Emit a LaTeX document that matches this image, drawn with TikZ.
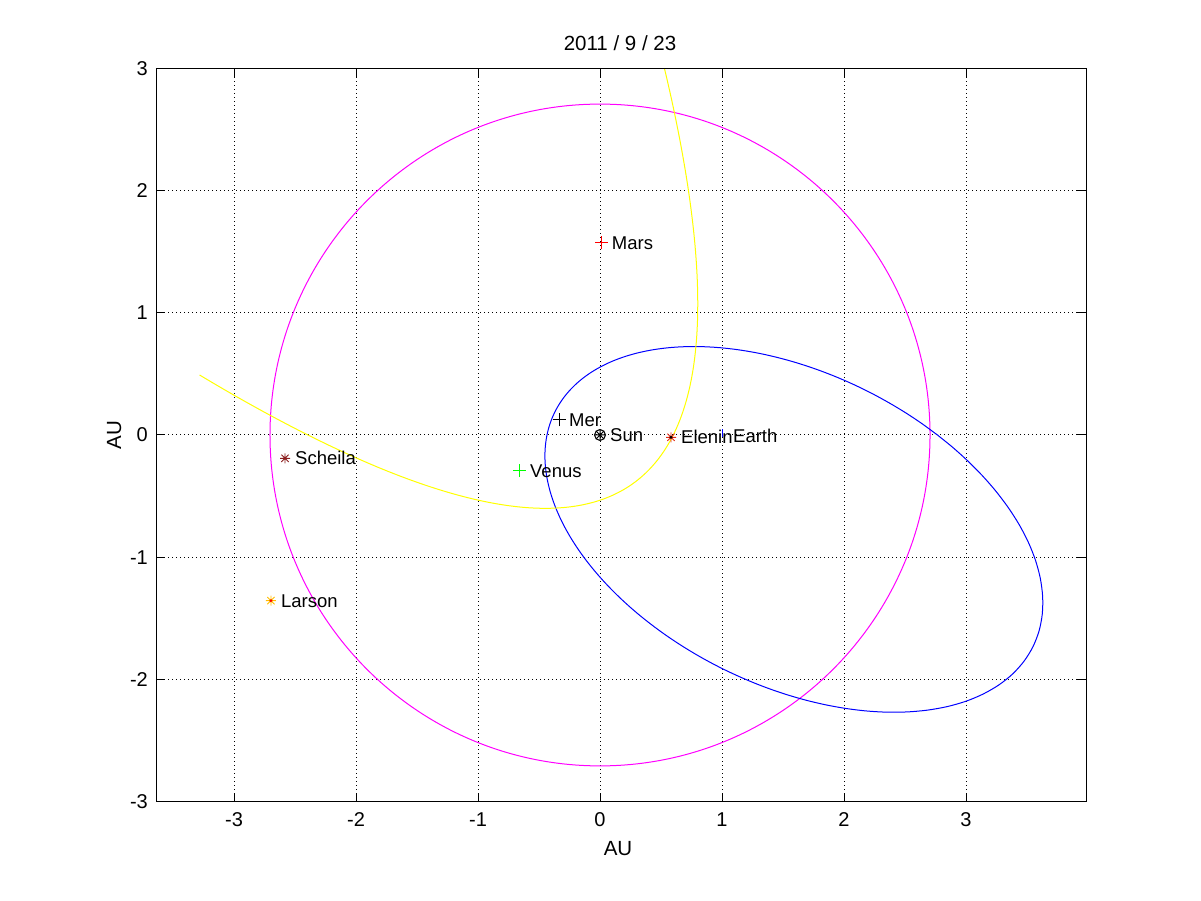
\documentclass[tikz,border=0pt]{standalone}
\usepackage{fontspec}
\setmainfont{Liberation Sans}
\definecolor{scheilacol}{RGB}{140,30,30}
\definecolor{elenincol}{RGB}{225,40,20}
\definecolor{larsoncol}{RGB}{255,190,0}
\definecolor{mgreen}{RGB}{0,255,0}
\definecolor{myellow}{RGB}{255,255,0}
\definecolor{mmagenta}{RGB}{255,0,255}
\definecolor{mblue}{RGB}{0,0,255}
\tikzset{
  gridline/.style={black, line width=1pt, dash pattern=on 1pt off 3pt},
  axisline/.style={black, line width=1pt},
  orbit/.style={line width=1pt},
  lab/.style={anchor=base west, inner sep=0pt, xshift=10pt, yshift=-6.6pt, font=\fontsize{18.5}{20}\selectfont},
  ticklab/.style={inner sep=0pt, font=\fontsize{20}{22}\selectfont},
  pics/plusmk/.style={code={\draw[line width=1pt] (-6.5pt,0) -- (6.5pt,0) (0,-6.5pt) -- (0,6.5pt);}},
  pics/starmk/.style={code={\draw[line width=0.9pt] (-5pt,0) -- (5pt,0) (0,-5pt) -- (0,5pt)
      (-3.6pt,-3.6pt) -- (3.6pt,3.6pt) (-3.6pt,3.6pt) -- (3.6pt,-3.6pt);}},
  pics/sunmk/.style={code={\draw[line width=1pt] (0,0) circle (5.5pt)
      (-5.5pt,0) -- (5.5pt,0) (0,-5.5pt) -- (0,5.5pt)
      (-3.9pt,-3.9pt) -- (3.9pt,3.9pt) (-3.9pt,3.9pt) -- (3.9pt,-3.9pt);}},
}
\begin{document}
\begin{tikzpicture}[x=1pt,y=1pt]
\useasboundingbox[fill=white] (0,0) rectangle (1201,900);
\begin{scope}[shift={(600,465)}, x=122pt, y=122.33pt]
  \coordinate (ll) at (-3.6393,-3);
  \coordinate (ur) at (3.9836,3);
  % grid
  \foreach \i in {-3,...,3} {
    \draw[gridline] (\i,-3) -- (\i,3);
    \draw[gridline] (-3.6393,\i) -- (3.9836,\i);
  }
  % curves, clipped to the axes
  \begin{scope}
    \clip (ll) rectangle (ur);
    \draw[orbit, mmagenta] (0,0) circle [radius=2.705];
    \draw[orbit, mblue] plot[domain=0:360, samples=181, smooth cycle]
      ({0.7511/(1+0.8098*cos(\x-154.1))*cos(\x)}, {0.7511/(1+0.8098*cos(\x-154.1))*sin(\x)});
    \draw[orbit, myellow] plot[domain=-135.3:133.6, samples=240, smooth]
      ({0.96/(1+cos(\x))*cos(\x-53.2)}, {0.96/(1+cos(\x))*sin(\x-53.2)});
  \end{scope}
  % ticks
  \foreach \i in {-3,...,3} {
    \draw[axisline] (\i,-3) -- ++(0,9pt);
    \draw[axisline] (\i,3) -- ++(0,-9pt);
    \draw[axisline] (-3.6393,\i) -- ++(9pt,0);
    \draw[axisline] (3.9836,\i) -- ++(-9pt,0);
    \node[ticklab, anchor=base] (xt\i) at ([yshift=-25pt]\i,-3) {\i};
    \node[ticklab, anchor=base east] (yt\i) at ([xshift=-8pt,yshift=-7pt]-3.6393,\i) {\i};
  }
  \draw[axisline] (ll) rectangle (ur);
  % bodies
  \coordinate (sun) at (0,0);
  \coordinate (mer) at (-0.336,0.123);
  \coordinate (venus) at (-0.656,-0.292);
  \coordinate (mars) at (0.014,1.57);
  \coordinate (elenin) at (0.582,-0.019);
  \coordinate (earth) at (1.008,-0.008);
  \coordinate (scheila) at (-2.582,-0.191);
  \coordinate (larson) at (-2.697,-1.354);
  \pic[black] at (sun) {sunmk};
  \pic[black] at (mer) {plusmk};
  \pic[mgreen] at (venus) {plusmk};
  \pic[red] at (mars) {plusmk};
  \draw[mblue, line width=1pt] ([yshift=-1pt]earth) -- ([yshift=7pt]earth);
  \pic[elenincol] at (elenin) {starmk};
  \fill[black] (elenin) circle (1.6pt);
  \pic[scheilacol] at (scheila) {starmk};
  \pic[larsoncol] at (larson) {starmk};
  \fill[red] (larson) circle (1.6pt);
  \node[lab] (sunl) at (sun) {Sun};
  \node[lab] (merl) at (mer) {Mer};
  \node[lab] (venusl) at (venus) {Venus};
  \node[lab] (marsl) at (mars) {Mars};
  \node[lab] (eleninl) at (elenin) {Elenin};
  \node[lab] (earthl) at (earth) {Earth};
  \node[lab] (scheilal) at (scheila) {Scheila};
  \node[lab] (larsonl) at (larson) {Larson};
\end{scope}
% title and axis labels
\node[ticklab, anchor=base, font=\fontsize{20.5}{22}\selectfont] (title) at (620,849) {2011 / 9 / 23};
\node[ticklab, anchor=base, font=\fontsize{20.5}{22}\selectfont] (xlab) at (618,45) {AU};
\node[ticklab, anchor=base, rotate=90, font=\fontsize{20.5}{22}\selectfont] (ylab) at (121,465) {AU};
\end{tikzpicture}
\end{document}
